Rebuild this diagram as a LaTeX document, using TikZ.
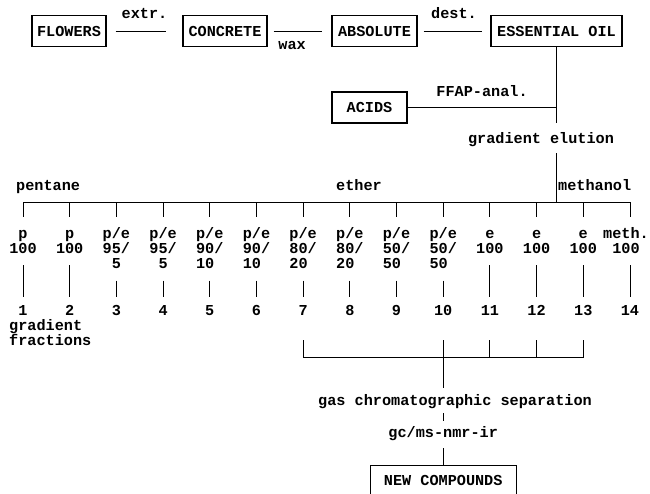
\documentclass[tikz,border=0pt]{standalone}
\usepackage{fontspec}
\newfontfamily\mymono{Liberation Mono}
\begin{document}
\begin{tikzpicture}[x=1pt,y=-1pt,
  every node/.style={font=\mymono\bfseries\fontsize{15.2}{15}\selectfont, inner sep=0pt},
  box/.style={draw, line width=1.2pt, minimum height=31pt, inner sep=0pt, anchor=center},
  conn/.style={line width=0.9pt},
  col/.style={anchor=base},
]
\useasboundingbox (0,0) rectangle (650,493);

% top boxes
\node[box, minimum width=74pt]  (flowers)  at (69,31)    {FLOWERS};
\node[box, minimum width=84pt]  (concrete) at (225,31)   {CONCRETE};
\node[box, minimum width=85pt]  (absolute) at (374.5,31) {ABSOLUTE};
\node[box, minimum width=131pt] (oil)      at (556.5,31) {ESSENTIAL OIL};
\node[box, minimum width=75pt]  (acids)    at (369.5,107.5) {ACIDS};

\draw[conn, shorten <=9pt, shorten >=16pt] (flowers.east) -- node[above=12pt] (lextr) {extr.} (concrete.west);
\draw[conn, shorten <=6pt, shorten >=9pt] (concrete.east) -- node[pos=0.385, below=10pt] (lwax) {wax} (absolute.west);
\draw[conn, shorten <=6pt, shorten >=8pt] (absolute.east) -- node[above=12pt] (ldest) {dest.} (oil.west);

\coordinate (j1) at (556.5,107.5);
\coordinate (e1) at (556.5,123);
\draw[conn] (oil.south) -- (e1);
\draw[conn] (acids.east) -- node[above=10pt] (lffap) {FFAP-anal.} (j1);

\node[anchor=base] (ge) at (541,143) {gradient elution};
\coordinate (e2) at (556.5,153);
\coordinate (e3) at (556.5,202);
\draw[conn] (e2) -- (e3);

% solvents
\node[anchor=base west] (pentane)  at (16,190)  {pentane};
\node[anchor=base west] (ether)    at (336,190) {ether};
\node[anchor=base west] (methanol) at (558,190) {methanol};

% main line and ticks
\coordinate (hl) at (23,202);
\coordinate (hr) at (630,202);
\draw[conn] (hl) -- (hr);
\foreach \i in {1,...,14}{
  \coordinate (t\i) at ({23+(\i-1)*46.69},202);
  \coordinate (u\i) at ({23+(\i-1)*46.69},217);
  \draw[conn] (t\i) -- (u\i);
}

% column labels
\newcommand\twoc[2]{\begin{tabular}[t]{@{}c@{}}#1\\#2\end{tabular}}
\newcommand\threel[3]{\begin{tabular}[t]{@{}l@{}}#1\\#2\\#3\end{tabular}}
\node[col] (c1)  at ({23+0*46.69},238)  {\twoc{p}{100}};
\node[col] (c2)  at ({23+1*46.69},238)  {\twoc{p}{100}};
\node[col] (c3)  at ({23+2*46.69},238)  {\threel{p/e}{95/}{\hphantom{9}5}};
\node[col] (c4)  at ({23+3*46.69},238)  {\threel{p/e}{95/}{\hphantom{9}5}};
\node[col] (c5)  at ({23+4*46.69},238)  {\threel{p/e}{90/}{10}};
\node[col] (c6)  at ({23+5*46.69},238)  {\threel{p/e}{90/}{10}};
\node[col] (c7)  at ({23+6*46.69},238)  {\threel{p/e}{80/}{20}};
\node[col] (c8)  at ({23+7*46.69},238)  {\threel{p/e}{80/}{20}};
\node[col] (c9)  at ({23+8*46.69},238)  {\threel{p/e}{50/}{50}};
\node[col] (c10) at ({23+9*46.69},238)  {\threel{p/e}{50/}{50}};
\node[col] (c11) at ({23+10*46.69},238) {\twoc{e}{100}};
\node[col] (c12) at ({23+11*46.69},238) {\twoc{e}{100}};
\node[col] (c13) at ({23+12*46.69},238) {\twoc{e}{100}};
\node[col] (c14) at ({23+13*46.69-4},238) {\twoc{meth.}{100}};

% numbers
\foreach \i in {1,...,14}{
  \node[col] (n\i) at ({23+(\i-1)*46.69},315) {\i};
}
\foreach \i in {1,...,13}{
  \draw[conn, shorten <=7.5pt, shorten >=8pt] (c\i.south) -- (n\i.north);
}
\draw[conn, shorten <=7.5pt, shorten >=8pt] (c14.south -| n14) -- (n14.north);

\node[anchor=base west] (gf) at (9,330) {\begin{tabular}[t]{@{}l@{}}gradient\\fractions\end{tabular}};

% bracket
\foreach \i in {7,10,11,12,13}{
  \coordinate (k\i) at ({23+(\i-1)*46.69},340);
  \coordinate (m\i) at ({23+(\i-1)*46.69},357);
}
\draw[conn] (k7) -- (m7) -- (m13) -- (k13);
\draw[conn] (k11) -- (m11);
\draw[conn] (k12) -- (m12);
\coordinate (g1) at ({23+9*46.69},388);
\draw[conn] (k10) -- (g1);

\node[anchor=base west] (gas) at (318,405) {gas chromatographic separation};
\coordinate (s1) at ({23+9*46.69},413);
\coordinate (s2) at ({23+9*46.69},421);
\draw[conn] (s1) -- (s2);
\node[anchor=base] (gc) at ({23+9*46.69},437) {gc/ms-nmr-ir};
\coordinate (s3) at ({23+9*46.69},448);

\node[box, minimum width=146pt, minimum height=30pt, anchor=north] (new) at ({23+9*46.69},465) {NEW COMPOUNDS};
\draw[conn] (s3) -- (new.north);
\end{tikzpicture}
\end{document}
